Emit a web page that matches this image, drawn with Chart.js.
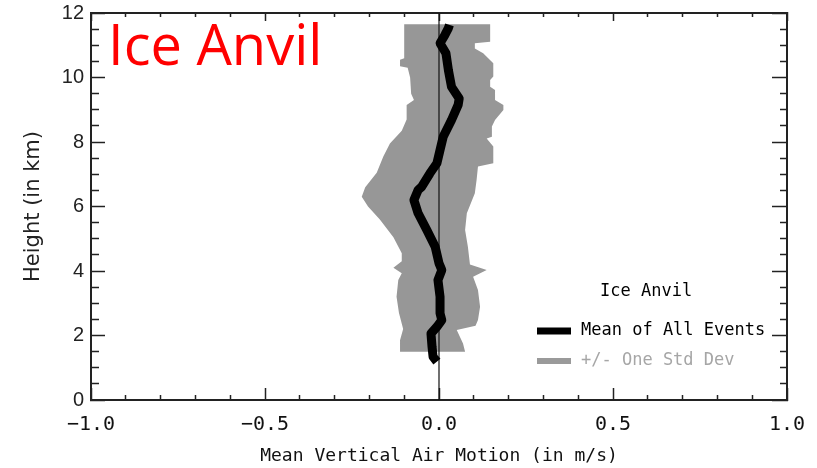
<!DOCTYPE html>
<html>
<head>
<meta charset="utf-8">
<title>Ice Anvil vertical air motion</title>
<script src="https://cdn.jsdelivr.net/npm/chart.js@4"></script>
<style>
  html, body { margin: 0; padding: 0; background: #fff; }
</style>
</head>
<body>
<canvas id="motionChart" width="817" height="468"></canvas>
<script>
// mean profile (height in km, motion in m/s), bottom -> top
const meanHeights = [1.19, 1.34, 1.65, 2.06, 2.27, 2.48, 2.69, 3.2, 3.72, 4.03, 4.24, 4.75, 5.27, 5.79, 6.2, 6.51, 6.61, 7.03, 7.34, 7.75, 8.16, 8.68, 9.15, 9.35, 9.71, 10.23, 10.75, 11.06, 11.32, 11.53, 11.63];
const meanMotion  = [-0.006, -0.017, -0.02, -0.023, -0.006, 0.008, 0.003, 0.003, -0.003, 0.008, 0, -0.011, -0.035, -0.06, -0.072, -0.06, -0.05, -0.026, -0.006, 0.003, 0.012, 0.036, 0.055, 0.058, 0.036, 0.027, 0.02, 0.003, 0.017, 0.027, 0.03];

// std dev envelope: left edge top -> bottom, right edge bottom -> top
const leftHeights = [11.65, 10.6, 10.55, 10.35, 10.3, 10.0, 9.5, 9.3, 9.15, 8.7, 8.35, 7.95, 7.55, 7.05, 6.6, 6.3, 6.0, 5.6, 5.05, 4.55, 4.3, 4.1, 3.93, 3.72, 3.2, 2.7, 2.2, 1.85, 1.5];
const leftMotion  = [-0.10, -0.10, -0.112, -0.112, -0.09, -0.083, -0.08, -0.072, -0.093, -0.093, -0.107, -0.141, -0.16, -0.179, -0.212, -0.222, -0.204, -0.17, -0.131, -0.107, -0.107, -0.131, -0.107, -0.117, -0.122, -0.115, -0.103, -0.112, -0.112];
const rightHeights = [1.5, 1.75, 1.96, 2.17, 2.3, 2.48, 2.89, 3.41, 3.82, 4.03, 4.2, 4.75, 5.27, 5.79, 6.41, 6.82, 7.24, 7.34, 7.86, 8.11, 8.16, 8.48, 8.68, 8.99, 9.15, 9.3, 9.61, 9.71, 9.92, 10.03, 10.44, 10.75, 10.9, 11.06, 11.11, 11.65];
const rightMotion  = [0.075, 0.069, 0.06, 0.051, 0.105, 0.112, 0.118, 0.112, 0.098, 0.137, 0.089, 0.083, 0.075, 0.08, 0.103, 0.108, 0.112, 0.156, 0.156, 0.137, 0.152, 0.152, 0.161, 0.185, 0.185, 0.161, 0.161, 0.147, 0.147, 0.156, 0.156, 0.127, 0.103, 0.103, 0.147, 0.147];

const xRange = [-1, 1];
const yRange = [0, 12];
const xMajor = 0.5, xMinor = 0.1;
const yMajor = 2, yMinor = 0.5;

const panelTitle = 'Ice Anvil';
const meanLabel = 'Mean of All Events';
const sdLabel = '+/- One Std Dev';

const bandGray = '#979797';

function isMajor(v, step) {
  return Math.abs(v / step - Math.round(v / step)) < 1e-6;
}
function fmtX(v) {
  return (v < 0 ? '\u2212' : '') + Math.abs(v).toFixed(1);
}
// inward ticks: negative tickLength, minor ticks shortened with a dash pattern
function gridFor(step, majorLen, minorLen, startsAtBorder) {
  return {
    drawOnChartArea: false,
    tickLength: -majorLen,
    tickColor: '#222',
    tickWidth: 1.5,
    tickBorderDash: ctx => isMajor(ctx.tick.value, step) ? [] :
      (startsAtBorder ? [minorLen, 100] : [0, majorLen - minorLen, 100])
  };
}
const axisBorder = { color: '#222', width: 2 };

// fixed box sizes so the plot area sits where the original one does
function fixBox(size) {
  return s => {
    if (s.isHorizontal()) s.height = size; else s.width = size;
    s.paddingLeft = s.paddingRight = s.paddingTop = s.paddingBottom = 0;
  };
}

const bandPoints = leftHeights.map((h, i) => ({ x: leftMotion[i], y: h }))
  .concat(rightHeights.map((h, i) => ({ x: rightMotion[i], y: h })));
const meanPoints = meanHeights.map((h, i) => ({ x: meanMotion[i], y: h }));
const zeroPoints = yRange.map(h => ({ x: 0, y: h }));

const overlay = {
  id: 'overlay',
  afterDraw(chart) {
    const c = chart.ctx;
    c.save();
    c.fillStyle = '#ff0000';
    c.font = '56px "Open Sans"';
    c.textBaseline = 'alphabetic';
    c.fillText(panelTitle, 108, 65);

    // legend
    c.font = '17px "DejaVu Sans Mono"';
    c.textBaseline = 'middle';
    c.fillStyle = '#000';
    c.fillText(panelTitle, 600, 292);
    const ds = chart.data.datasets;
    const rows = [
      { d: ds[0], y: 331, w: 7, text: '#000' },
      { d: ds[2], y: 361, w: 6, text: '#a6a6a6' }
    ];
    rows.forEach(r => {
      c.strokeStyle = r.d.legendColor;
      c.lineWidth = r.w;
      c.beginPath();
      c.moveTo(537, r.y);
      c.lineTo(571, r.y);
      c.stroke();
      c.fillStyle = r.text;
      c.fillText(r.d.label, 581, r.y);
    });
    c.restore();
  }
};

new Chart(document.getElementById('motionChart'), {
  type: 'scatter',
  data: {
    datasets: [
      { label: meanLabel, data: meanPoints, showLine: true, borderColor: '#000', legendColor: '#000',
        borderWidth: 9, pointRadius: 0, borderJoinStyle: 'round', fill: false },
      { label: 'zero', data: zeroPoints, showLine: true, borderColor: '#111', borderWidth: 1.2,
        pointRadius: 0, fill: false },
      { label: sdLabel, data: bandPoints, showLine: true, borderWidth: 0, borderColor: bandGray,
        backgroundColor: bandGray, legendColor: '#9a9a9a', pointRadius: 0, fill: 'shape' }
    ]
  },
  options: {
    responsive: false,
    animation: false,
    layout: { padding: 0 },
    plugins: { legend: { display: false }, tooltip: { enabled: false } },
    scales: {
      x: {
        type: 'linear', position: 'bottom', min: xRange[0], max: xRange[1],
        ticks: { stepSize: xMinor, autoSkip: false, maxRotation: 0, padding: 25, color: '#111',
          font: { family: 'DejaVu Sans Mono', size: 20 },
          callback: v => isMajor(v, xMajor) ? fmtX(v) : '' },
        grid: gridFor(xMajor, 12, 6, true),
        border: axisBorder,
        title: { display: true, text: 'Mean Vertical Air Motion (in m/s)', color: '#111',
          font: { family: 'DejaVu Sans Mono', size: 18 }, padding: { top: 0, bottom: 1 } },
        afterFit: fixBox(68)
      },
      x2: {
        type: 'linear', position: 'top', min: xRange[0], max: xRange[1],
        ticks: { stepSize: xMinor, autoSkip: false, display: false },
        grid: gridFor(xMajor, 8, 4, false),
        border: axisBorder,
        afterFit: fixBox(13)
      },
      y: {
        type: 'linear', position: 'left', min: yRange[0], max: yRange[1],
        ticks: { stepSize: yMinor, autoSkip: false, padding: 21, color: '#222',
          font: { family: 'Liberation Sans', size: 20 },
          callback: v => isMajor(v, yMajor) ? String(v) : '' },
        grid: gridFor(yMajor, 14, 8, false),
        border: axisBorder,
        title: { display: true, text: 'Height (in km)', color: '#222',
          font: { family: 'DejaVu Sans', size: 21 }, padding: { top: 21, bottom: 0 } },
        afterFit: fixBox(91)
      },
      y2: {
        type: 'linear', position: 'right', min: yRange[0], max: yRange[1],
        ticks: { stepSize: yMinor, autoSkip: false, display: false },
        grid: gridFor(yMajor, 15, 8, true),
        border: axisBorder,
        afterFit: fixBox(30)
      }
    }
  },
  plugins: [overlay]
});
</script>
</body>
</html>
